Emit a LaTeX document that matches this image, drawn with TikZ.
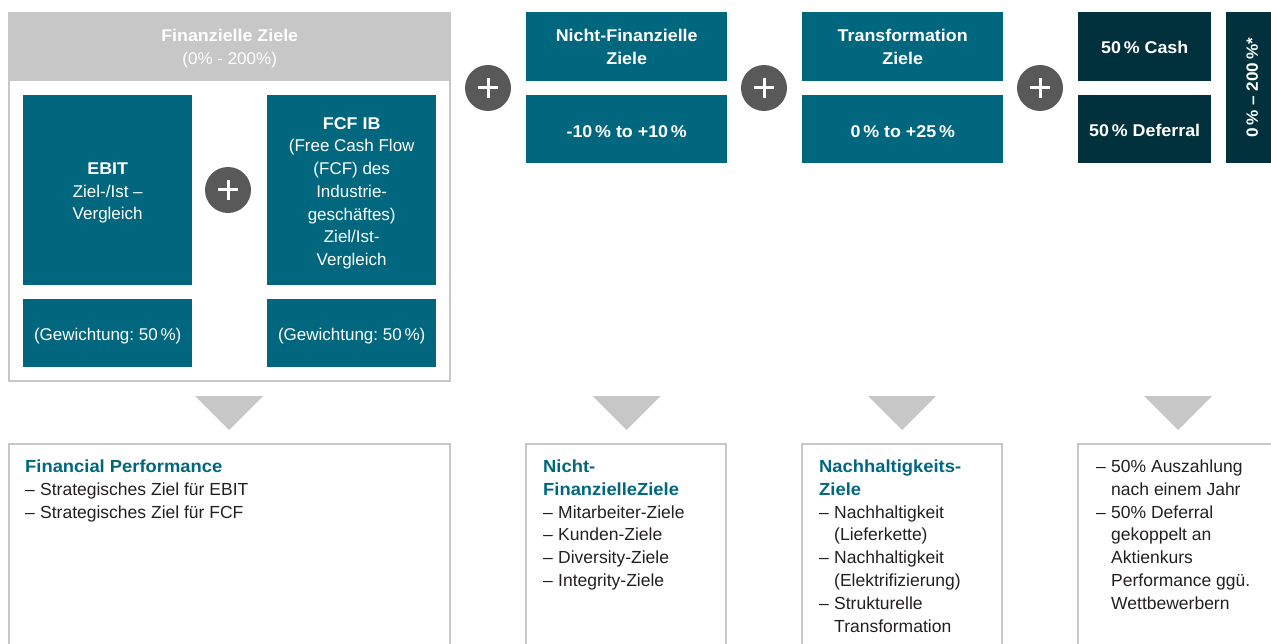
\documentclass[tikz,border=0pt]{standalone}
\usepackage{fontspec}
\setmainfont{Liberation Sans}[BoldFeatures={FakeStretch=1.05}]
\frenchspacing
\definecolor{petrol}{RGB}{0,103,127}
\definecolor{deep}{RGB}{0,49,60}
\definecolor{framegrey}{RGB}{198,199,198}
\definecolor{plusgrey}{RGB}{88,89,88}
\definecolor{ink}{RGB}{35,31,32}
\newcommand\bodyfont{\fontsize{17}{22.7}\selectfont}
\newcommand\notefont{\fontsize{17.5}{22.8}\selectfont}
\newcommand\dashitem{\makebox[15pt][l]{–}}
\newcommand\contline{\hspace*{15pt}}
\tikzset{
  tile/.style={fill=petrol, inner sep=0pt, anchor=north west},
  darktile/.style={tile, fill=deep},
  header/.style={fill=framegrey, inner sep=0pt, anchor=north west},
  tiletext/.style={text=white, align=center, font=\bodyfont, inner sep=0pt},
  plusdot/.style={circle, fill=plusgrey, minimum size=46pt, inner sep=0pt},
  plusbar/.style={white, line width=3pt},
  framebox/.style={draw=framegrey, line width=2.5pt},
  arrowhead/.style={fill=framegrey},
  notes/.style={anchor=base west, align=left, font=\notefont, text=ink, inner sep=0pt},
}
\begin{document}
\begin{tikzpicture}[x=1pt,y=-1pt]
\useasboundingbox (0,0) rectangle (1271,644);
\clip (0,0) rectangle (1271,644);

% financial block: frame and grey header
\draw[framebox] (9,80) rectangle (450,381);
\node[header, minimum width=443pt, minimum height=69pt] (fin) at (8,12) {};
\node[tiletext] (finlabel) at ([yshift=-2pt]fin.center)
  {\textbf{Finanzielle Ziele}\\(0\% - 200\%)};

\node[tile, minimum width=169pt, minimum height=190pt] (ebit) at (23,95) {};
\node[tiletext] (ebitlabel) at ([yshift=-3pt]ebit.center)
  {\textbf{EBIT}\\Ziel-/Ist –\\Vergleich};
\node[tile, minimum width=169pt, minimum height=68pt] (ebitw) at (23,299) {};
\node[tiletext] (ebitwlabel) at ([yshift=-3pt]ebitw.center)
  {(Gewichtung: 50\,\%)};
\node[tile, minimum width=169pt, minimum height=190pt] (fcf) at (267,95) {};
\node[tiletext] (fcflabel) at ([yshift=-3pt]fcf.center)
  {\textbf{FCF IB}\\(Free Cash Flow\\(FCF) des\\Industrie-\\geschäftes)\\Ziel/Ist-\\Vergleich};
\node[tile, minimum width=169pt, minimum height=68pt] (fcfw) at (267,299) {};
\node[tiletext] (fcfwlabel) at ([yshift=-3pt]fcfw.center)
  {(Gewichtung: 50\,\%)};

% non-financial and transformation goals
\node[tile, minimum width=201pt, minimum height=69pt] (nf) at (526,12) {};
\node[tiletext] (nflabel) at ([yshift=-0.5pt]nf.center)
  {\textbf{Nicht-Finanzielle}\\\textbf{Ziele}};
\node[tile, minimum width=201pt, minimum height=68pt] (nfr) at (526,95) {};
\node[tiletext] (nfrlabel) at ([yshift=-2pt]nfr.center)
  {\textbf{-10\,\% to +10\,\%}};
\node[tile, minimum width=201pt, minimum height=69pt] (tr) at (802,12) {};
\node[tiletext] (trlabel) at ([yshift=-0.5pt]tr.center)
  {\textbf{Transformation}\\\textbf{Ziele}};
\node[tile, minimum width=201pt, minimum height=68pt] (trr) at (802,95) {};
\node[tiletext] (trrlabel) at ([yshift=-2pt]trr.center)
  {\textbf{0\,\% to +25\,\%}};

% payout split
\node[darktile, minimum width=133pt, minimum height=69pt] (cash) at (1078,12) {};
\node[tiletext] (cashlabel) at ([yshift=-0.5pt]cash.center) {\textbf{50\,\% Cash}};
\node[darktile, minimum width=133pt, minimum height=68pt] (defer) at (1078,95) {};
\node[tiletext] (deferlabel) at ([yshift=-1pt]defer.center) {\textbf{50\,\% Deferral}};
\node[darktile, minimum width=50pt, minimum height=151pt] (total) at (1226,12) {};
\node[tiletext, font=\fontsize{16.3}{20}\selectfont, rotate=90] (totallabel)
  at ([xshift=1pt]total.center) {\textbf{0\,\% – 200\,\%*}};

% plus signs
\node[plusdot] (p1) at (228,190) {};
\node[plusdot] (p2) at (488,88) {};
\node[plusdot] (p3) at (764,88) {};
\node[plusdot] (p4) at (1040,88) {};
\foreach \p in {p1,p2,p3,p4}{
  \draw[plusbar] ([xshift=-10pt]\p.center) -- ([xshift=10pt]\p.center);
  \draw[plusbar] ([yshift=-10pt]\p.center) -- ([yshift=10pt]\p.center);
}

% downward triangles
\foreach \cx/\n in {229/t1, 626.5/t2, 902/t3, 1178/t4}{
  \coordinate (\n) at (\cx,396);
  \fill[arrowhead] ([xshift=-34pt]\n) -- ([xshift=34pt]\n) -- ([yshift=-34pt]\n) -- cycle;
}

% explanation boxes
\draw[framebox] (9,444) rectangle (450,700);
\draw[framebox] (526,444) rectangle (726,700);
\draw[framebox] (802,444) rectangle (1002,700);
\draw[framebox] (1078,444) rectangle (1300,700);

% note texts (anchored at the baseline of their last line)
\node[notes] (n1) at (25,518.1)
  {\textcolor{petrol}{\textbf{Financial Performance}}\\
   \dashitem Strategisches Ziel für EBIT\\
   \dashitem Strategisches Ziel für FCF};
\node[notes] (n2) at (543,586.5)
  {\textcolor{petrol}{\textbf{Nicht-}}\\
   \textcolor{petrol}{\textbf{FinanzielleZiele}}\\
   \dashitem Mitarbeiter-Ziele\\
   \dashitem Kunden-Ziele\\
   \dashitem Diversity-Ziele\\
   \dashitem Integrity-Ziele};
\node[notes] (n3) at (819,632.1)
  {\textcolor{petrol}{\textbf{Nachhaltigkeits-}}\\
   \textcolor{petrol}{\textbf{Ziele}}\\
   \dashitem Nachhaltigkeit\\
   \contline (Lieferkette)\\
   \dashitem Nachhaltigkeit\\
   \contline (Elektrifizierung)\\
   \dashitem Strukturelle\\
   \contline Transformation};
\node[notes] (n4) at (1096,609.3)
  {\dashitem 50\% Auszahlung\\
   \contline nach einem Jahr\\
   \dashitem 50\% Deferral\\
   \contline gekoppelt an\\
   \contline Aktienkurs\\
   \contline Performance ggü.\\
   \contline Wettbewerbern};
\end{tikzpicture}
\end{document}
